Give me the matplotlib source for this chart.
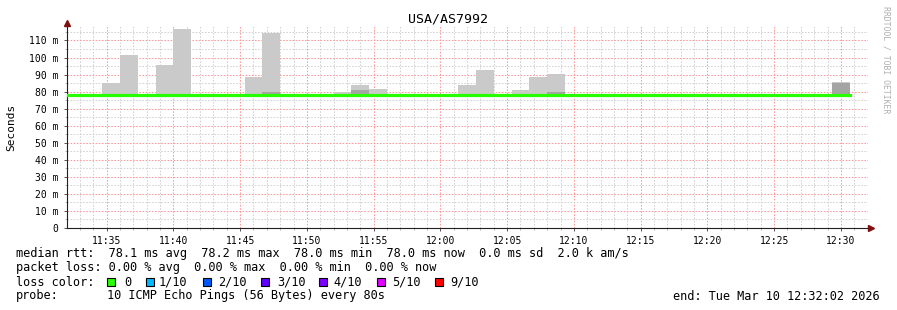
import matplotlib
matplotlib.use('Agg')
import matplotlib.pyplot as plt
import matplotlib.dates as mdates
from matplotlib.patches import Rectangle
from matplotlib.ticker import FuncFormatter, MultipleLocator
from datetime import datetime, timedelta
import numpy as np

# smokeping data, one value per 80 s step starting 11:32:00
start = datetime(2026, 3, 10, 11, 32, 0)
step_s = 80
median = [78.0, 78.2, 78.2, 78.2, 78.0, 78.0, 78.0, 78.2, 78.2, 78.2,
          78.0, 78.2, 78.2, 78.0, 78.0, 78.0, 78.2, 78.2, 78.0, 78.2,
          78.2, 78.0, 78.2, 78.2, 78.0, 78.0, 78.0, 78.2, 78.2, 78.0,
          78.0, 78.2, 78.0, 78.0, 78.2, 78.0, 78.0, 78.0, 78.2, 78.2,
          78.0, 78.0, 78.0, 78.0]
smoke_min = [77.8, 77.9, 77.9, 77.9, 77.8, 77.8, 77.8, 77.9, 77.9, 77.9,
             77.8, 77.9, 77.9, 77.8, 77.8, 77.8, 77.9, 77.9, 77.8, 77.9,
             77.9, 77.8, 77.9, 77.9, 77.8, 77.8, 77.8, 77.9, 77.9, 77.8,
             77.8, 77.9, 77.8, 77.8, 77.9, 77.8, 77.8, 77.8, 77.9, 77.9,
             77.8, 77.8, 77.8, 77.8]
smoke_max = [78.3, 78.4, 85.0, 101.2, 78.4, 95.4, 117.0, 78.3, 78.4, 78.3,
             88.4, 114.3, 78.4, 78.3, 78.3, 79.8, 83.8, 81.4, 78.3, 78.4,
             78.4, 78.3, 83.7, 92.4, 78.3, 80.7, 88.5, 90.1, 78.4, 78.3,
             78.3, 78.4, 78.3, 78.3, 78.4, 78.3, 78.3, 78.3, 78.4, 78.4,
             78.3, 78.3, 78.3, 85.5]
smoke_inner = [78.2, 78.3, 78.6, 78.8, 78.2, 78.6, 78.8, 78.2, 78.3, 78.2,
               78.6, 79.6, 78.3, 78.2, 78.2, 78.4, 81.2, 78.6, 78.2, 78.3,
               78.3, 78.2, 78.5, 78.7, 78.2, 78.4, 78.6, 79.9, 78.3, 78.2,
               78.2, 78.3, 78.2, 78.2, 78.3, 78.2, 78.2, 78.2, 78.3, 78.3,
               78.2, 78.2, 78.2, 85.2]

loss_labels = ['0', '1/10', '2/10', '3/10', '4/10', '5/10', '9/10']
loss_colors = ['#26ff00', '#00b8ff', '#0059ff', '#5e00ff', '#7e00ff', '#dd00ff', '#ff0000']

title = 'USA/AS7992'
rtt_line = 'median rtt:  78.1 ms avg  78.2 ms max  78.0 ms min  78.0 ms now  0.0 ms sd  2.0 k am/s'
loss_line = 'packet loss: 0.00 % avg  0.00 % max  0.00 % min  0.00 % now'
probe_text = '10 ICMP Echo Pings (56 Bytes) every 80s'
end_text = 'end: Tue Mar 10 12:32:02 2026'

mono = 'DejaVu Sans Mono'
W, H = 897, 310
fs = 8.55

fig = plt.figure(figsize=(W / 100, H / 100), dpi=100)
fig.patch.set_facecolor('white')
ax = fig.add_axes([67 / W, (H - 228) / H, (868 - 67) / W, (228 - 26) / H])

edges = [start + timedelta(seconds=step_s * i) for i in range(len(median) + 1)]

def ext(v):
    return list(v) + [v[-1]]

ax.fill_between(edges, ext(smoke_min), ext(smoke_max), step='post',
                color='#cacaca', linewidth=0, zorder=2)
ax.fill_between(edges, ext(smoke_min), ext(smoke_inner), step='post',
                color='#a4a4a4', linewidth=0, zorder=3)
ax.step(edges, ext(median), where='post', color='#26ff00', lw=2.3, zorder=4)

x0 = datetime(2026, 3, 10, 11, 32, 2)
ax.set_xlim(x0, x0 + timedelta(hours=1))
ax.set_ylim(0, 118.5)

ax.xaxis.set_major_locator(mdates.MinuteLocator(byminute=range(0, 60, 5)))
ax.xaxis.set_minor_locator(mdates.MinuteLocator())
ax.xaxis.set_major_formatter(mdates.DateFormatter('%H:%M'))
ax.yaxis.set_major_locator(MultipleLocator(10))
ax.yaxis.set_minor_locator(MultipleLocator(5))
ax.yaxis.set_major_formatter(FuncFormatter(lambda v, p: '0' if v == 0 else '%d m' % v))

ax.set_axisbelow(True)
ax.grid(which='major', color='#ff9a9a', lw=0.75, linestyle=(0, (1.5, 1.5)))
ax.grid(which='minor', color='#d2d2d2', lw=0.75, linestyle=(0, (1.5, 1.5)))

for s in ['top', 'right']:
    ax.spines[s].set_visible(False)
for s in ['left', 'bottom']:
    ax.spines[s].set_color('#202020')
    ax.spines[s].set_linewidth(0.8)

ax.tick_params(which='major', direction='out', length=2, width=0.7, color='#555555',
               labelsize=7, pad=4)
ax.tick_params(which='minor', direction='out', length=1.5, width=0.6, color='#aaaaaa')
for lab in ax.get_xticklabels() + ax.get_yticklabels():
    lab.set_fontfamily(mono)

ax.plot([0], [1 + 3 / 202], marker='^', ms=4, color='#7f1010', transform=ax.transAxes,
        clip_on=False, zorder=6)
ax.plot([1 + 3 / 801], [0], marker='>', ms=4, color='#7f1010', transform=ax.transAxes,
        clip_on=False, zorder=6)

def ftext(x, y, s, **kw):
    fig.text(x / W, 1 - y / H, s, family=mono, va='center', **kw)

ftext(448, 19, title, ha='center', fontsize=9.5)
ftext(11, 127, 'Seconds', ha='center', rotation=90, fontsize=8)
fig.text(886 / W, 1 - 60 / H, 'RRDTOOL / TOBI OETIKER', family=mono, rotation=270,
         ha='center', va='center', fontsize=5.9, color='#b0b0b0')

ftext(16, 254, rtt_line, fontsize=fs)
ftext(16, 268, loss_line, fontsize=fs)
ftext(16, 282, 'loss color:', fontsize=fs)
ftext(16, 296, 'probe:', fontsize=fs)
ftext(107, 296, probe_text, fontsize=fs)
ftext(880, 296, end_text, ha='right', fontsize=fs)

sq_x = [107, 146, 203, 261, 319, 377, 435]
lab_x = [124, 159, 218, 277, 333, 392, 450]
for c, l, sx, lx in zip(loss_colors, loss_labels, sq_x, lab_x):
    fig.add_artist(Rectangle((sx / W, 1 - 286 / H), 8 / W, 8 / H, transform=fig.transFigure,
                             facecolor=c, edgecolor='black', lw=0.8))
    ftext(lx, 282, l, fontsize=fs)

fig.savefig('out.png', dpi=100)
